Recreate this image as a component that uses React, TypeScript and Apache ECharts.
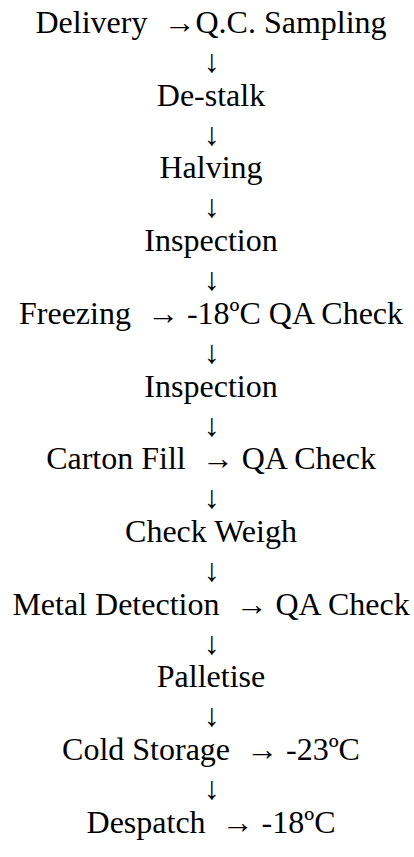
import React, { useEffect, useRef } from "react";
import * as echarts from "echarts";

const steps = [
  "Delivery",
  "De-stalk",
  "Halving",
  "Inspection",
  "Freezing",
  "Inspection",
  "Carton Fill",
  "Check Weigh",
  "Metal Detection",
  "Palletise",
  "Cold Storage",
  "Despatch",
];

const notes = [
  "Q.C. Sampling",
  "",
  "",
  "",
  "-18ºC QA Check",
  "",
  "QA Check",
  "",
  "QA Check",
  "",
  "-23ºC",
  "-18ºC",
];

// whether the side arrow is followed directly by the note (no gap)
const tightNote = [true, false, false, false, false, false, false, false, false, false, false, false];

const FONT = "32px 'Liberation Serif', 'Times New Roman', serif";

export default function App() {
  const ref = useRef<HTMLDivElement>(null);
  useEffect(() => {
    document.body.style.margin = "0";
    const chart = echarts.init(ref.current!, null, { renderer: "svg" });
    const top = 22;
    const step = 72.7;
    const elements: any[] = [];
    steps.forEach((s, i) => {
      const y = Math.round(top + i * step);
      let txt = s;
      if (notes[i]) {
        txt += tightNote[i] ? "  →" + notes[i] : "  → " + notes[i];
      }
      elements.push({
        type: "text",
        x: 211,
        y,
        style: {
          text: txt,
          align: "center",
          verticalAlign: "middle",
          font: FONT,
          fill: "#000",
        },
      });
      if (i < steps.length - 1) {
        elements.push({
          type: "text",
          x: 212,
          y: Math.round(y + step / 2 + 3),
          style: {
            text: "↓",
            align: "center",
            verticalAlign: "middle",
            font: FONT,
            fill: "#000",
          },
        });
      }
    });
    chart.setOption({
      animation: false,
      backgroundColor: "#fff",
      textStyle: { fontFamily: "Liberation Serif" },
      graphic: { elements },
    });
    return () => chart.dispose();
  }, []);
  return (
    <div
      ref={ref}
      style={{ width: 414, height: 857, fontFamily: "'Liberation Serif', serif" }}
    />
  );
}
